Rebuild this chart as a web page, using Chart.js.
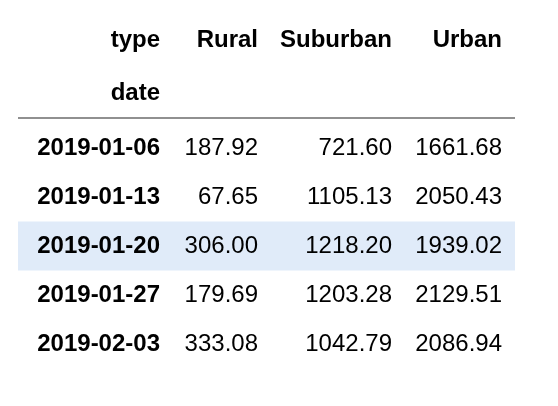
<!DOCTYPE html>
<html lang="en">
<head>
<meta charset="UTF-8">
<script src="https://cdn.jsdelivr.net/npm/chart.js"></script>
<style>
  html, body { margin: 0; padding: 0; background: #fff; }
  #wrap { width: 558px; height: 406px; }
</style>
</head>
<body>
<div id="wrap"><canvas id="tbl"></canvas></div>
<script>
const columns = ['Rural', 'Suburban', 'Urban'];
const dates = ['2019-01-06', '2019-01-13', '2019-01-20', '2019-01-27', '2019-02-03'];
const rural = [187.92, 67.65, 306.00, 179.69, 333.08];
const suburban = [721.60, 1105.13, 1218.20, 1203.28, 1042.79];
const urban = [1661.68, 2050.43, 1939.02, 2129.51, 2086.94];
const highlightRow = 2;

// right edge of each column, and row centres, in scale units
const colRight = [160, 258, 392, 502];
const headerY = [40, 93];
const rowY = [148, 197, 246, 295, 344];

const tablePlugin = {
  id: 'table',
  afterDraw(chart) {
    const { ctx, scales: { x, y } } = chart;
    const left = x.getPixelForValue(18), right = x.getPixelForValue(515);
    ctx.save();
    // highlighted row
    ctx.fillStyle = '#e0ebf9';
    const hTop = y.getPixelForValue(rowY[highlightRow] - 24.5);
    const hBot = y.getPixelForValue(rowY[highlightRow] + 24.5);
    ctx.fillRect(left, hTop, right - left, hBot - hTop);
    // header rule
    ctx.strokeStyle = '#222';
    ctx.lineWidth = 1.2;
    ctx.beginPath();
    const ly = y.getPixelForValue(118);
    ctx.moveTo(left, ly); ctx.lineTo(right, ly);
    ctx.stroke();

    const bold = 'bold 24px "Liberation Sans", Arial, sans-serif';
    const normal = '24px "Liberation Sans", Arial, sans-serif';
    ctx.fillStyle = '#000';
    ctx.textAlign = 'right';
    ctx.textBaseline = 'middle';
    ctx.font = bold;
    ctx.fillText('type', x.getPixelForValue(colRight[0]), y.getPixelForValue(headerY[0]));
    columns.forEach((c, i) => ctx.fillText(c, x.getPixelForValue(colRight[i + 1]), y.getPixelForValue(headerY[0])));
    ctx.fillText('date', x.getPixelForValue(colRight[0]), y.getPixelForValue(headerY[1]));
    const series = [rural, suburban, urban];
    dates.forEach((d, r) => {
      const py = y.getPixelForValue(rowY[r]);
      ctx.font = bold;
      ctx.fillText(d, x.getPixelForValue(colRight[0]), py);
      ctx.font = normal;
      series.forEach((s, i) => ctx.fillText(s[r].toFixed(2), x.getPixelForValue(colRight[i + 1]), py));
    });
    ctx.restore();
  }
};

new Chart(document.getElementById('tbl'), {
  type: 'scatter',
  data: { datasets: [{ data: [] }] },
  options: {
    responsive: true,
    maintainAspectRatio: false,
    animation: false,
    layout: { padding: 0 },
    plugins: { legend: { display: false }, tooltip: { enabled: false } },
    scales: {
      x: { type: 'linear', min: 0, max: 558, display: false },
      y: { type: 'linear', min: 0, max: 406, reverse: true, display: false }
    }
  },
  plugins: [tablePlugin]
});
</script>
</body>
</html>
